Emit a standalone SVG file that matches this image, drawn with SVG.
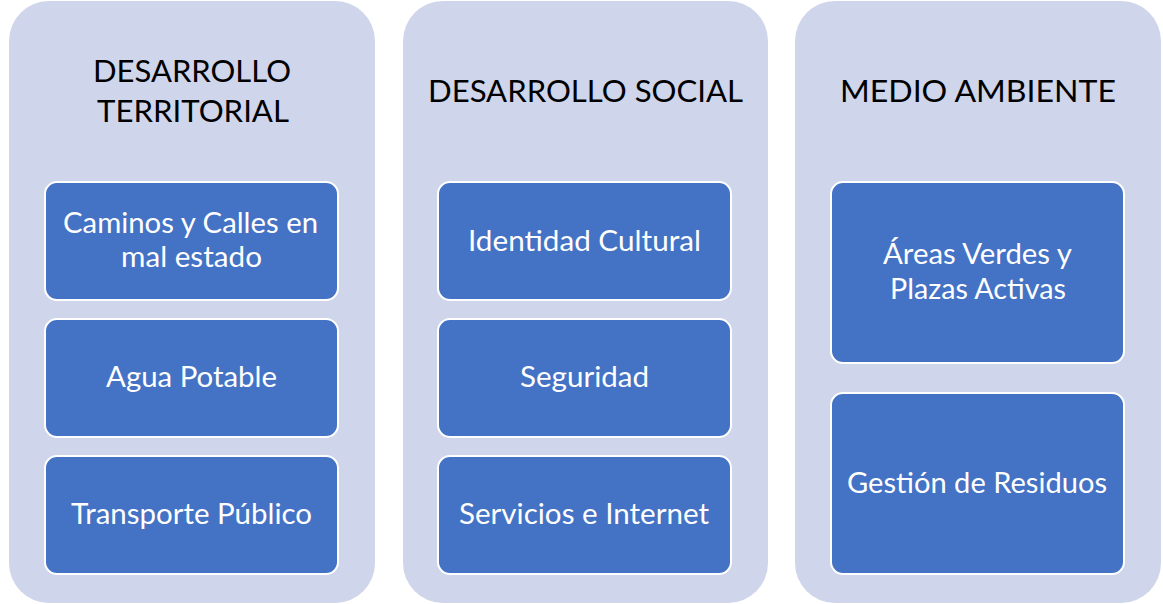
<svg xmlns="http://www.w3.org/2000/svg" width="1163" height="604" viewBox="0 0 1163 604">
<style>
.panel{fill:#CFD5EA;}
.box{fill:#4472C4;stroke:#FFFFFF;stroke-width:2;}
.title{font-family:Lato,"Open Sans","Liberation Sans",sans-serif;font-size:31px;fill:#000000;text-anchor:middle;}
.lbl{font-family:Lato,"Open Sans","Liberation Sans",sans-serif;font-size:28px;fill:#FFFFFF;text-anchor:middle;}
</style>
<rect width="1163" height="604" fill="#FFFFFF"/>
<g id="panel-territorial">
<rect class="panel" x="9" y="1" width="366" height="602" rx="40" ry="40"/>
<text class="title" x="192" y="82" textLength="198" lengthAdjust="spacingAndGlyphs">DESARROLLO</text>
<text class="title" x="193" y="122" textLength="192" lengthAdjust="spacingAndGlyphs">TERRITORIAL</text>
</g>
<g id="panel-social">
<rect class="panel" x="403" y="1" width="365" height="602" rx="40" ry="40"/>
<text class="title" x="585.5" y="102" textLength="315" lengthAdjust="spacingAndGlyphs">DESARROLLO SOCIAL</text>
</g>
<g id="panel-ambiente">
<rect class="panel" x="795" y="1" width="366" height="602" rx="40" ry="40"/>
<text class="title" x="978" y="102" textLength="276" lengthAdjust="spacingAndGlyphs">MEDIO AMBIENTE</text>
</g>
<g id="node-caminos">
<rect class="box" x="45" y="182" width="293" height="118" rx="12" ry="12"/>
<text class="lbl" x="190.5" y="233" textLength="255" lengthAdjust="spacingAndGlyphs">Caminos y Calles en</text>
<text class="lbl" x="191.5" y="267" textLength="141" lengthAdjust="spacingAndGlyphs">mal estado</text>
</g>
<g id="node-agua">
<rect class="box" x="45" y="319" width="293" height="118" rx="12" ry="12"/>
<text class="lbl" x="191.5" y="387" textLength="171" lengthAdjust="spacingAndGlyphs">Agua Potable</text>
</g>
<g id="node-transporte">
<rect class="box" x="45" y="456" width="293" height="118" rx="12" ry="12"/>
<text class="lbl" x="191.5" y="524" textLength="241" lengthAdjust="spacingAndGlyphs">Transporte Público</text>
</g>
<g id="node-identidad">
<rect class="box" x="438" y="182" width="293" height="118" rx="12" ry="12"/>
<text class="lbl" x="584.5" y="251" textLength="233" lengthAdjust="spacingAndGlyphs">Identidad Cultural</text>
</g>
<g id="node-seguridad">
<rect class="box" x="438" y="319" width="293" height="118" rx="12" ry="12"/>
<text class="lbl" x="584.5" y="387" textLength="129" lengthAdjust="spacingAndGlyphs">Seguridad</text>
</g>
<g id="node-servicios">
<rect class="box" x="438" y="456" width="293" height="118" rx="12" ry="12"/>
<text class="lbl" x="584" y="524" textLength="250" lengthAdjust="spacingAndGlyphs">Servicios e Internet</text>
</g>
<g id="node-areas">
<rect class="box" x="831" y="182" width="293" height="181" rx="12" ry="12"/>
<text class="lbl" x="977.5" y="264" textLength="189" lengthAdjust="spacingAndGlyphs">Áreas Verdes y</text>
<text class="lbl" x="978" y="299" textLength="176" lengthAdjust="spacingAndGlyphs">Plazas Activas</text>
</g>
<g id="node-gestion">
<rect class="box" x="831" y="393" width="293" height="181" rx="12" ry="12"/>
<text class="lbl" x="977" y="493" textLength="260" lengthAdjust="spacingAndGlyphs">Gestión de Residuos</text>
</g>
<g id="connectors"></g>
</svg>
